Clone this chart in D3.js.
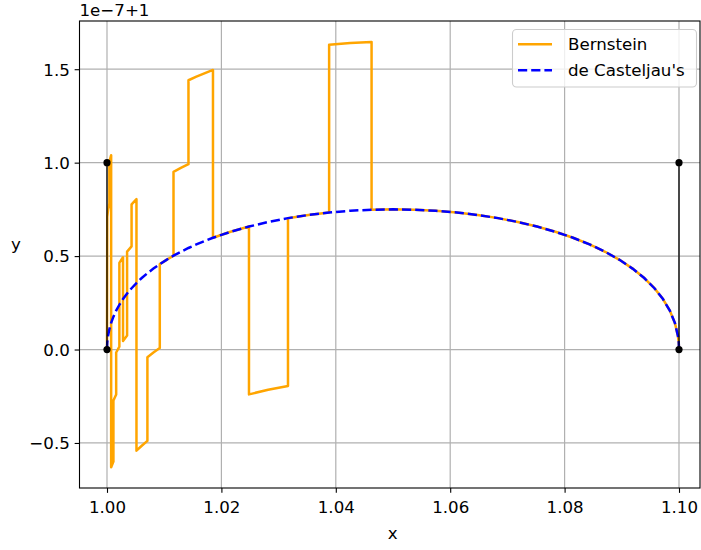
<!DOCTYPE html>
<html>
<head>
<meta charset="utf-8">
<script src="https://cdn.jsdelivr.net/npm/d3@7"></script>
<style>
  body { margin: 0; background: #fff; }
  text { font-family: "DejaVu Sans", sans-serif; }
</style>
</head>
<body>
<svg id="chart" width="701" height="550"></svg>
<script>
// Cubic Bézier with control points (1,0), (1,1), (1.1,1), (1.1,0); y is shown as 1 + value·1e-7.
const ctrlX = [1.0, 1.0, 1.1, 1.1];
const ctrlY = [0.0, 1.0, 1.0, 0.0];
// tangent handles drawn between these control-point pairs
const handlePairs = [[0, 1], [2, 3]];

// de Casteljau evaluation
const casteljauX = [1.0, 1.0000465, 1.0001844, 1.0004113, 1.000725, 1.001123, 1.0016031, 1.0021629,
  1.0028, 1.0035121, 1.0042969, 1.005152, 1.006075, 1.0070637, 1.0081156, 1.0092285, 1.0104,
  1.0116277, 1.0129094, 1.0142427, 1.015625, 1.018528, 1.0216, 1.024822, 1.028175, 1.031641,
  1.0352, 1.038834, 1.042525, 1.046253, 1.05, 1.053747, 1.057475, 1.061166, 1.0648, 1.068359,
  1.071825, 1.075178, 1.0784, 1.081472, 1.084375, 1.0870906, 1.0896, 1.0918844, 1.093925,
  1.095703, 1.0972, 1.0983969, 1.099275, 1.0998156, 1.0999535, 1.1];
const casteljauY = [0.0, 0.037, 0.0731, 0.1083, 0.1425, 0.1758, 0.2081, 0.2395,
  0.27, 0.2995, 0.3281, 0.3558, 0.3825, 0.4083, 0.4331, 0.457, 0.48,
  0.502, 0.5231, 0.5433, 0.5625, 0.5981, 0.63, 0.6581, 0.6825, 0.7031,
  0.72, 0.7331, 0.7425, 0.7481, 0.75, 0.7481, 0.7425, 0.7331, 0.72, 0.7031,
  0.6825, 0.6581, 0.63, 0.5981, 0.5625, 0.5231, 0.48, 0.4331, 0.3825,
  0.3281, 0.27, 0.2081, 0.1425, 0.0731, 0.037, 0.0];

// Bernstein-polynomial evaluation (rounding jumps included)
const bernsteinX = [1.0, 1.0000465, 1.0001844, 1.0004113, 1.0004113, 1.000725, 1.000725, 1.001123,
  1.001123, 1.0016031, 1.0016031, 1.0021629, 1.0021629, 1.0028, 1.0028, 1.0035121,
  1.0035121, 1.0042969, 1.0042969, 1.005152, 1.005152, 1.006075, 1.0070637, 1.0070637,
  1.0081156, 1.0092285, 1.0092285, 1.0104, 1.0116277, 1.0116277, 1.0129094, 1.0142427,
  1.0142427, 1.015625, 1.018528, 1.018528, 1.0216, 1.024822, 1.024822, 1.028175,
  1.031641, 1.031641, 1.0352, 1.038834, 1.038834, 1.042525, 1.046253, 1.046253,
  1.05, 1.053747, 1.057475, 1.061166, 1.0648, 1.068359, 1.071825, 1.075178, 1.0784,
  1.081472, 1.084375, 1.0870906, 1.0896, 1.0918844, 1.093925, 1.095703, 1.0972,
  1.0983969, 1.099275, 1.0998156, 1.0999535, 1.1];
const bernsteinY = [0.0, 0.71, 0.746, 0.781, 1.005, 1.04, -0.63, -0.6,
  -0.273, -0.241, -0.016, 0.015, 0.464, 0.494, 0.046, 0.075,
  0.524, 0.552, 0.777, 0.805, -0.541, -0.515, -0.489, -0.041,
  -0.016, 0.008, 0.457, 0.48, 0.502, 0.951, 0.972, 0.992,
  1.441, 1.46, 1.496, 0.598, 0.63, 0.658, -0.24, -0.215,
  -0.195, 0.703, 0.72, 0.733, 1.631, 1.64, 1.646, 0.748,
  0.75, 0.7481, 0.7425, 0.7331, 0.72, 0.7031, 0.6825, 0.6581, 0.63,
  0.5981, 0.5625, 0.5231, 0.48, 0.4331, 0.3825, 0.3281, 0.27,
  0.2081, 0.1425, 0.0731, 0.037, 0.0];

const xTicks = [1.00, 1.02, 1.04, 1.06, 1.08, 1.10];
const yTicks = [-0.5, 0.0, 0.5, 1.0, 1.5];
const seriesNames = ["Bernstein", "de Casteljau's"];
const offsetLabel = "1e\u22127+1";

// ---- layout ----
const fs = 16.67;
const lw = 2.5;
const dashes = "9.2,4";
const box = { left: 79.5, right: 700, top: 21, bottom: 488 };
const svg = d3.select("#chart");

const x = d3.scaleLinear().domain([1.0, 1.1]).range([107, 679]);
const y = d3.scaleLinear().domain([-0.741, 1.758]).range([box.bottom, box.top]);

svg.append("defs").append("clipPath").attr("id", "plotClip")
  .append("rect").attr("x", box.left).attr("y", box.top)
  .attr("width", box.right - box.left).attr("height", box.bottom - box.top);

// grid
const grid = svg.append("g").attr("stroke", "#b0b0b0").attr("stroke-width", 1.2);
grid.selectAll("line.gx").data(xTicks).join("line").attr("class", "gx")
  .attr("x1", d => x(d)).attr("x2", d => x(d))
  .attr("y1", box.top).attr("y2", box.bottom);
grid.selectAll("line.gy").data(yTicks).join("line").attr("class", "gy")
  .attr("x1", box.left).attr("x2", box.right)
  .attr("y1", d => y(d)).attr("y2", d => y(d));

const plot = svg.append("g").attr("clip-path", "url(#plotClip)");
const line = d3.line().x(d => x(d[0])).y(d => y(d[1]));

// Bernstein curve
plot.append("path")
  .datum(bernsteinX.map((v, i) => [v, bernsteinY[i]]))
  .attr("d", line).attr("fill", "none")
  .attr("stroke", "orange").attr("stroke-width", lw).attr("stroke-linejoin", "round");

// de Casteljau curve
plot.append("path")
  .datum(casteljauX.map((v, i) => [v, casteljauY[i]]))
  .attr("d", line).attr("fill", "none")
  .attr("stroke", "blue").attr("stroke-width", lw)
  .attr("stroke-dasharray", dashes);

// control handles and points
plot.selectAll("line.handle").data(handlePairs).join("line").attr("class", "handle")
  .attr("x1", d => x(ctrlX[d[0]])).attr("y1", d => y(ctrlY[d[0]]))
  .attr("x2", d => x(ctrlX[d[1]])).attr("y2", d => y(ctrlY[d[1]]))
  .attr("stroke", "black").attr("stroke-width", 1.3);
plot.selectAll("circle.ctrl").data(ctrlX.map((v, i) => [v, ctrlY[i]])).join("circle")
  .attr("class", "ctrl")
  .attr("cx", d => x(d[0])).attr("cy", d => y(d[1])).attr("r", 3.6).attr("fill", "black");

// axes
const tick = 4.86, pad = 4.86;
const xAxis = svg.append("g").attr("transform", `translate(0,${box.bottom})`)
  .call(d3.axisBottom(x).tickValues(xTicks).tickFormat(d3.format(".2f"))
    .tickSizeInner(tick).tickSizeOuter(0).tickPadding(pad));
const yAxis = svg.append("g").attr("transform", `translate(${box.left},0)`)
  .call(d3.axisLeft(y).tickValues(yTicks).tickFormat(d3.format(".1f"))
    .tickSizeInner(tick).tickSizeOuter(0).tickPadding(pad));
[xAxis, yAxis].forEach(g => {
  g.select(".domain").remove();
  g.selectAll(".tick line").attr("stroke", "black").attr("stroke-width", 1.1);
  g.selectAll(".tick text").attr("fill", "black")
    .style("font-family", "DejaVu Sans").style("font-size", fs + "px");
});
xAxis.selectAll(".tick text").attr("dy", null).attr("y", tick + pad + 15);
yAxis.selectAll(".tick text").attr("dy", null).attr("y", 5.9);

// spines
svg.append("rect").attr("x", box.left).attr("y", box.top)
  .attr("width", box.right - box.left).attr("height", box.bottom - box.top)
  .attr("fill", "none").attr("stroke", "black").attr("stroke-width", 1.1);

// labels
svg.append("text").attr("x", (box.left + box.right) / 2 + 3).attr("y", 539)
  .attr("text-anchor", "middle").style("font-size", fs + "px").text("x");
svg.append("text").attr("x", 16).attr("y", 250)
  .attr("text-anchor", "middle").style("font-size", fs + "px").text("y");
svg.append("text").attr("x", box.left).attr("y", 16)
  .style("font-size", fs + "px").text(offsetLabel);

// legend
const lg = svg.append("g");
lg.append("rect").attr("x", 512.5).attr("y", 29.5).attr("width", 184).attr("height", 57.5)
  .attr("rx", 4).attr("fill", "white").attr("fill-opacity", 0.8)
  .attr("stroke", "#cccccc").attr("stroke-width", 1.1);
const legendStyles = [
  { color: "orange", dash: null },
  { color: "blue", dash: dashes }
];
seriesNames.forEach((name, i) => {
  const cy = 44.3 + i * 26;
  lg.append("line").attr("x1", 518).attr("x2", 552).attr("y1", cy).attr("y2", cy)
    .attr("stroke", legendStyles[i].color).attr("stroke-width", lw)
    .attr("stroke-dasharray", legendStyles[i].dash);
  lg.append("text").attr("x", 568).attr("y", cy + 6)
    .style("font-size", fs + "px").text(name);
});
</script>
</body>
</html>
